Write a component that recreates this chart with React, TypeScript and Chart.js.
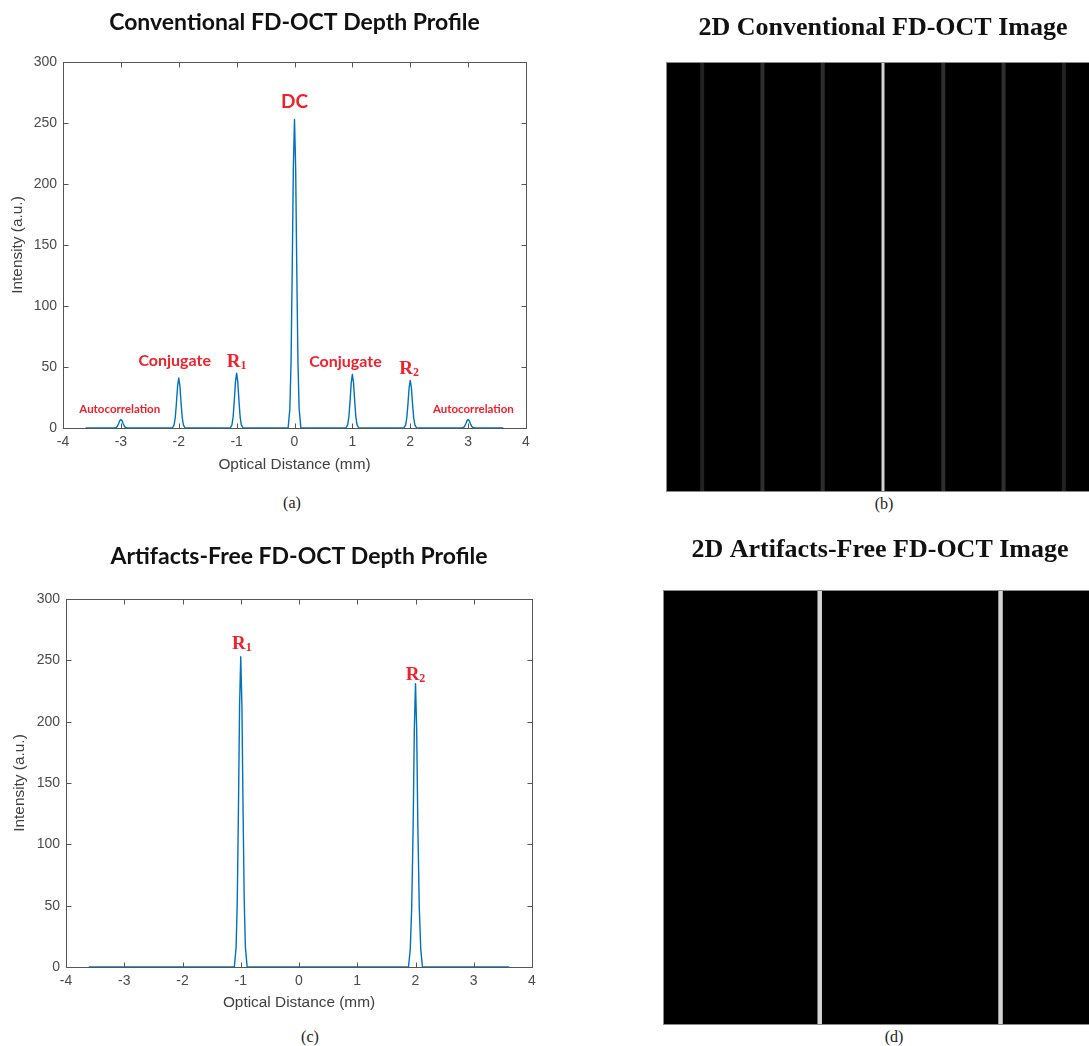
import React, { useEffect, useRef } from "react";
import { Chart, registerables } from "chart.js";

Chart.register(...registerables);

// ---------------- data ----------------
const profileXTicks = [-4, -3, -2, -1, 0, 1, 2, 3, 4];
const profileYTicks = [0, 50, 100, 150, 200, 250, 300];

// (a) conventional FD-OCT depth profile
const conventionalX = [
  -3.6,
  -3.11, -3.08, -3.06, -3.04, -3.02, -3, -2.98, -2.96, -2.94, -2.92, -2.89,
  -2.11, -2.08, -2.06, -2.04, -2.02, -2, -1.98, -1.96, -1.94, -1.92, -1.89,
  -1.11, -1.08, -1.06, -1.04, -1.02, -1, -0.98, -0.96, -0.94, -0.92, -0.89,
  -0.11, -0.08, -0.06, -0.04, -0.02, 0, 0.02, 0.04, 0.06, 0.08, 0.11,
  0.89, 0.92, 0.94, 0.96, 0.98, 1, 1.02, 1.04, 1.06, 1.08, 1.11,
  1.89, 1.92, 1.94, 1.96, 1.98, 2, 2.02, 2.04, 2.06, 2.08, 2.11,
  2.89, 2.92, 2.94, 2.96, 2.98, 3, 3.02, 3.04, 3.06, 3.08, 3.11,
  3.6,
];
const conventionalY = [
  0,
  0, 0.4, 1.5, 3.5, 5.9, 7, 5.9, 3.5, 1.5, 0.4, 0,
  0, 2.6, 8.6, 20.5, 34.4, 41, 34.4, 20.5, 8.6, 2.6, 0,
  0, 2.8, 9.4, 22.5, 37.8, 45, 37.8, 22.5, 9.4, 2.8, 0,
  0, 16, 53, 127, 213, 253, 213, 127, 53, 16, 0,
  0, 2.8, 9.2, 22, 37, 44, 37, 22, 9.2, 2.8, 0,
  0, 2.5, 8.2, 19.5, 32.8, 39, 32.8, 19.5, 8.2, 2.5, 0,
  0, 0.4, 1.5, 3.5, 5.9, 7, 5.9, 3.5, 1.5, 0.4, 0,
  0,
];
const conventionalLabels = ["Autocorrelation", "Conjugate", "R₁", "DC", "Conjugate", "R₂", "Autocorrelation"];
const conventionalLabelX = [-3.02, -2.07, -1.0, 0, 0.88, 1.98, 3.09];
const conventionalLabelY = [15.5, 55, 55.5, 267, 54, 49.5, 15.5];

// (c) artifacts-free FD-OCT depth profile
const freeX = [
  -3.6,
  -1.11, -1.08, -1.06, -1.04, -1.02, -1, -0.98, -0.96, -0.94, -0.92, -0.89,
  1.88, 1.91, 1.935, 1.96, 1.98, 2, 2.02, 2.04, 2.065, 2.09, 2.12,
  3.6,
];
const freeY = [
  0,
  0, 16, 53, 127, 213, 253, 213, 127, 53, 16, 0,
  0, 14.6, 48.5, 115.5, 194, 231, 194, 115.5, 48.5, 14.6, 0,
  0,
];
const freeLabels = ["R₁", "R₂"];
const freeLabelX = [-0.98, 2.0];
const freeLabelY = [264, 239];

// (b) / (d) 2D images: line positions (mm) and their intensities
const imageBLines = [-3, -2, -1, 0, 1, 2, 3];
const imageBLevels = [7, 41, 45, 253, 44, 39, 7];
const imageDLines = [-1, 2];
const imageDLevels = [253, 231];
const imageXRange = [-3.6, 3.6];

const titleA = "Conventional FD-OCT Depth Profile";
const titleB = "2D Conventional FD-OCT Image";
const titleC = "Artifacts-Free FD-OCT Depth Profile";
const titleD = "2D Artifacts-Free FD-OCT Image";
const xAxisTitle = "Optical Distance (mm)";
const yAxisTitle = "Intensity (a.u.)";

// ---------------- styles ----------------
const LINE_BLUE = "#0072BD";
const AXIS_GREY = "#555555";
const TICK_TEXT = "#4a4a4a";
const LABEL_RED = "#f0202c";
const AXIS_FONT = "'Liberation Sans', Arial, Helvetica, sans-serif";
const TITLE_FONT = "Lato, 'Open Sans', sans-serif";
const SERIF_FONT = "'Liberation Serif', 'Times New Roman', serif";

const labelFonts: Record<string, string> = {
  Autocorrelation: `bold 11.5px ${TITLE_FONT}`,
  Conjugate: `bold 16px ${TITLE_FONT}`,
  DC: `bold 19px ${TITLE_FONT}`,
};
const SUBS: Record<string, string> = { "₁": "1", "₂": "2" };

// ---------------- plugins ----------------
const boxPlugin = {
  id: "matlabBox",
  afterDatasetsDraw(chart: any, _a: any, opts: any) {
    if (!opts || !opts.enabled) return;
    const { ctx, chartArea: a, scales } = chart;
    ctx.save();
    ctx.strokeStyle = opts.color;
    ctx.lineWidth = 1;
    const L = Math.round(a.left) + 0.5;
    const R = Math.round(a.right) + 0.5;
    const T = Math.round(a.top) + 0.5;
    const B = Math.round(a.bottom) + 0.5;
    ctx.strokeRect(L, T, R - L, B - T);
    const len = opts.tickLength;
    ctx.beginPath();
    for (const t of scales.x.ticks) {
      const px = Math.round(scales.x.getPixelForValue(t.value)) + 0.5;
      ctx.moveTo(px, B);
      ctx.lineTo(px, B - len);
      ctx.moveTo(px, T);
      ctx.lineTo(px, T + len);
    }
    for (const t of scales.y.ticks) {
      const py = Math.round(scales.y.getPixelForValue(t.value)) + 0.5;
      ctx.moveTo(L, py);
      ctx.lineTo(L + len, py);
      ctx.moveTo(R, py);
      ctx.lineTo(R - len, py);
    }
    ctx.stroke();
    ctx.restore();
  },
};

const labelPlugin = {
  id: "peakLabels",
  afterDatasetsDraw(chart: any, _a: any, opts: any) {
    const items = (opts && opts.items) || [];
    const { ctx, scales } = chart;
    ctx.save();
    ctx.fillStyle = opts.color;
    for (const it of items) {
      const px = scales.x.getPixelForValue(it.x);
      const py = scales.y.getPixelForValue(it.y);
      const last = it.text.slice(-1);
      if (SUBS[last]) {
        const base = it.text.slice(0, -1);
        const sub = SUBS[last];
        ctx.font = `bold 19px ${SERIF_FONT}`;
        const wb = ctx.measureText(base).width;
        ctx.font = `bold 12px ${SERIF_FONT}`;
        const ws = ctx.measureText(sub).width;
        const x0 = px - (wb + ws) / 2;
        const baseline = py + 6.3;
        ctx.textAlign = "left";
        ctx.textBaseline = "alphabetic";
        ctx.font = `bold 19px ${SERIF_FONT}`;
        ctx.fillText(base, x0, baseline);
        ctx.font = `bold 12px ${SERIF_FONT}`;
        ctx.fillText(sub, x0 + wb, baseline + 2);
      } else {
        ctx.font = labelFonts[it.text] || `bold 14px ${TITLE_FONT}`;
        ctx.textAlign = "center";
        ctx.textBaseline = "middle";
        ctx.fillText(it.text, px, py);
      }
    }
    ctx.restore();
  },
};

const imagePlugin = {
  id: "imageFrame",
  beforeDatasetsDraw(chart: any) {
    const { ctx, chartArea: a } = chart;
    ctx.save();
    ctx.fillStyle = "#000";
    ctx.fillRect(a.left, a.top, a.right - a.left, a.bottom - a.top);
    ctx.restore();
  },
  afterDatasetsDraw(chart: any) {
    const { ctx, chartArea: a } = chart;
    ctx.save();
    ctx.strokeStyle = "#8a8a8a";
    ctx.lineWidth = 1;
    ctx.strokeRect(a.left + 0.5, a.top + 0.5, a.right - a.left - 1, a.bottom - a.top - 1);
    ctx.restore();
  },
};

// ---------------- components ----------------
type ProfileProps = {
  xs: number[];
  ys: number[];
  labels: string[];
  labelX: number[];
  labelY: number[];
  title: string;
  left: number;
  top: number;
  w: number;
  h: number;
  padRight: number;
  titlePadTop: number;
  titlePadBottom: number;
  yAxisWidth: number;
  xAxisHeight: number;
  yTitlePad: number;
  xTitlePad: number;
};

function ProfileChart(p: ProfileProps) {
  const ref = useRef<HTMLCanvasElement>(null);
  useEffect(() => {
    const canvas = ref.current!;
    const chart = new Chart(canvas, {
      type: "line",
      data: {
        datasets: [
          {
            data: p.xs.map((x, i) => ({ x, y: p.ys[i] })),
            borderColor: LINE_BLUE,
            borderWidth: 1.4,
            borderJoinStyle: "round",
            borderCapStyle: "round",
            pointRadius: 0,
            tension: 0,
            fill: false,
          },
        ],
      },
      options: {
        responsive: false,
        animation: false,
        events: [],
        layout: { padding: { left: 0, right: p.padRight, top: 0, bottom: 0 } },
        scales: {
          x: {
            type: "linear",
            min: profileXTicks[0],
            max: profileXTicks[profileXTicks.length - 1],
            afterBuildTicks: (s: any) => {
              s.ticks = profileXTicks.map((v) => ({ value: v }));
            },
            afterFit: (s: any) => {
              s.height = p.xAxisHeight;
            },
            grid: { display: false, drawTicks: false },
            border: { display: false },
            ticks: { color: TICK_TEXT, font: { family: AXIS_FONT, size: 14 }, padding: 6, maxRotation: 0, autoSkip: false },
            title: {
              display: true,
              text: xAxisTitle,
              color: "#404040",
              font: { family: AXIS_FONT, size: 15.4 },
              padding: { top: 0, bottom: p.xTitlePad },
            },
          },
          y: {
            type: "linear",
            min: profileYTicks[0],
            max: profileYTicks[profileYTicks.length - 1],
            afterBuildTicks: (s: any) => {
              s.ticks = profileYTicks.map((v) => ({ value: v }));
            },
            afterFit: (s: any) => {
              s.width = p.yAxisWidth;
            },
            grid: { display: false, drawTicks: false },
            border: { display: false },
            ticks: { color: TICK_TEXT, font: { family: AXIS_FONT, size: 14 }, padding: 6, autoSkip: false },
            title: {
              display: true,
              text: yAxisTitle,
              color: "#404040",
              font: { family: AXIS_FONT, size: 15.4 },
              padding: { top: p.yTitlePad, bottom: 0 },
            },
          },
        },
        plugins: {
          legend: { display: false },
          tooltip: { enabled: false },
          title: {
            display: true,
            fullSize: false,
            text: p.title,
            color: "#111",
            font: { family: TITLE_FONT, size: 23, weight: "bold" },
            padding: { top: p.titlePadTop, bottom: p.titlePadBottom },
          },
          matlabBox: { enabled: true, color: AXIS_GREY, tickLength: 5 },
          peakLabels: {
            color: LABEL_RED,
            items: p.labels.map((text, i) => ({ text, x: p.labelX[i], y: p.labelY[i] })),
          },
        } as any,
      },
      plugins: [boxPlugin, labelPlugin],
    } as any);
    return () => chart.destroy();
  }, []);
  return (
    <canvas
      ref={ref}
      width={p.w}
      height={p.h}
      style={{ position: "absolute", left: p.left, top: p.top, width: p.w, height: p.h }}
    />
  );
}

type ImageProps = {
  lines: number[];
  levels: number[];
  title: string;
  left: number;
  top: number;
  w: number;
  h: number;
  titlePadTop: number;
  titlePadBottom: number;
  brightWidth: number;
};

function lineColor(level: number) {
  if (level >= 200) return "#d4d4d4";
  if (level >= 20) return "#2e2e2e";
  return "#222222";
}

function ImageChart(p: ImageProps) {
  const ref = useRef<HTMLCanvasElement>(null);
  useEffect(() => {
    const canvas = ref.current!;
    const chart = new Chart(canvas, {
      type: "line",
      data: {
        datasets: p.lines.map((pos, i) => ({
          data: [
            { x: pos, y: 0 },
            { x: pos, y: 1 },
          ],
          borderColor: lineColor(p.levels[i]),
          borderWidth: p.levels[i] >= 200 ? p.brightWidth : 4,
          pointRadius: 0,
          fill: false,
        })),
      },
      options: {
        responsive: false,
        animation: false,
        events: [],
        layout: { padding: 0 },
        scales: {
          x: { type: "linear", min: imageXRange[0], max: imageXRange[1], display: false },
          y: { type: "linear", min: 0, max: 1, display: false },
        },
        plugins: {
          legend: { display: false },
          tooltip: { enabled: false },
          title: {
            display: true,
            text: p.title,
            color: "#111",
            font: { family: SERIF_FONT, size: 26, weight: "bold" },
            padding: { top: p.titlePadTop, bottom: p.titlePadBottom },
          },
        },
      },
      plugins: [imagePlugin],
    } as any);
    return () => chart.destroy();
  }, []);
  return (
    <canvas
      ref={ref}
      width={p.w}
      height={p.h}
      style={{ position: "absolute", left: p.left, top: p.top, width: p.w, height: p.h }}
    />
  );
}

function Caption({ text, x, y }: { text: string; x: number; y: number }) {
  return (
    <div
      style={{
        position: "absolute",
        left: x,
        top: y,
        transform: "translate(-50%, -50%)",
        fontFamily: SERIF_FONT,
        fontSize: 16,
        color: "#222",
        whiteSpace: "nowrap",
        lineHeight: 1,
      }}
    >
      {text}
    </div>
  );
}

export default function App() {
  return (
    <div
      style={{
        position: "absolute",
        left: 0,
        top: 0,
        width: 1089,
        height: 1046,
        overflow: "hidden",
        background: "#fff",
      }}
    >
      <ProfileChart
        xs={conventionalX}
        ys={conventionalY}
        labels={conventionalLabels}
        labelX={conventionalLabelX}
        labelY={conventionalLabelY}
        title={titleA}
        left={0}
        top={0}
        w={560}
        h={484}
        padRight={34}
        titlePadTop={9.2}
        titlePadBottom={25.2}
        yAxisWidth={63}
        xAxisHeight={56}
        yTitlePad={8.8}
        xTitlePad={9.8}
      />
      <ProfileChart
        xs={freeX}
        ys={freeY}
        labels={freeLabels}
        labelX={freeLabelX}
        labelY={freeLabelY}
        title={titleC}
        left={0}
        top={530}
        w={566}
        h={490}
        padRight={34}
        titlePadTop={13.2}
        titlePadBottom={28.2}
        yAxisWidth={66}
        xAxisHeight={53}
        yTitlePad={10.8}
        xTitlePad={7.8}
      />
      <ImageChart
        lines={imageBLines}
        levels={imageBLevels}
        title={titleB}
        left={666}
        top={0}
        w={434}
        h={492}
        titlePadTop={12.4}
        titlePadBottom={18.4}
        brightWidth={3}
      />
      <ImageChart
        lines={imageDLines}
        levels={imageDLevels}
        title={titleD}
        left={663}
        top={520}
        w={434}
        h={505}
        titlePadTop={14.4}
        titlePadBottom={24.4}
        brightWidth={4.5}
      />
      <Caption text="(a)" x={292} y={503} />
      <Caption text="(b)" x={884} y={504} />
      <Caption text="(c)" x={310} y={1037} />
      <Caption text="(d)" x={894} y={1037} />
    </div>
  );
}
